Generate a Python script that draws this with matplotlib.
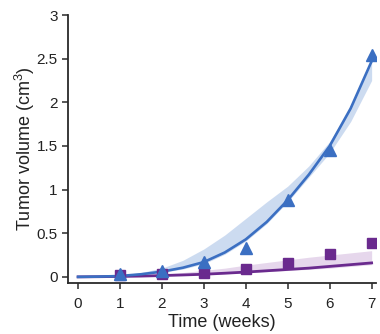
import matplotlib
matplotlib.use("Agg")
import matplotlib.pyplot as plt

plt.rcParams['font.family'] = ['Liberation Sans', 'DejaVu Sans']
plt.rcParams['mathtext.fontset'] = 'custom'
plt.rcParams['mathtext.rm'] = 'Liberation Sans'
plt.rcParams['mathtext.it'] = 'Liberation Sans'

# measured tumour volumes (cm^3) per week
weeks = [1, 2, 3, 4, 5, 6, 7]
vol_blue = [0.03, 0.07, 0.17, 0.33, 0.88, 1.45, 2.54]
vol_purple = [0.02, 0.03, 0.05, 0.09, 0.16, 0.26, 0.39]

# fitted growth curves with confidence bands
t_fit = [0, 0.5, 1, 1.5, 2, 2.5, 3, 3.5, 4, 4.5, 5, 5.5, 6, 6.5, 7]
blue_fit = [0, 0.003, 0.01, 0.03, 0.06, 0.105, 0.17, 0.28, 0.43, 0.63, 0.88, 1.17, 1.5, 1.93, 2.47]
blue_hi = [0, 0.006, 0.02, 0.05, 0.10, 0.19, 0.32, 0.48, 0.67, 0.86, 1.04, 1.27, 1.55, 1.95, 2.45]
blue_lo = [0, 0.002, 0.008, 0.025, 0.05, 0.09, 0.15, 0.26, 0.41, 0.61, 0.86, 1.14, 1.42, 1.78, 2.25]
purple_fit = [0, 0.002, 0.005, 0.009, 0.015, 0.022, 0.03, 0.042, 0.055, 0.07, 0.085, 0.10, 0.12, 0.14, 0.16]
purple_hi = [0, 0.004, 0.01, 0.02, 0.03, 0.05, 0.075, 0.10, 0.135, 0.165, 0.195, 0.225, 0.25, 0.275, 0.30]
purple_lo = [0, 0.001, 0.004, 0.007, 0.012, 0.018, 0.025, 0.035, 0.047, 0.06, 0.073, 0.087, 0.10, 0.12, 0.14]

x_ticks = [0, 1, 2, 3, 4, 5, 6, 7]
y_ticks = [0, 0.5, 1, 1.5, 2, 2.5, 3]
y_tick_labels = ['0', '0.5', '1', '1.5', '2', '2.5', '3']

blue = '#3b6fc2'
purple = '#6a2a8e'

fig = plt.figure(figsize=(3.8, 3.34), dpi=100)
ax = fig.add_axes([0.179, 0.153, 0.81, 0.802])

ax.fill_between(t_fit, blue_lo, blue_hi, color='#c4d5ee', alpha=0.85, lw=0, zorder=1)
ax.fill_between(t_fit, purple_lo, purple_hi, color='#e4d3ea', alpha=0.9, lw=0, zorder=1)
ax.plot(t_fit, purple_fit, color=purple, lw=2.0, zorder=2)
ax.plot(t_fit, blue_fit, color=blue, lw=1.9, zorder=3)
ax.plot(weeks, vol_purple, 's', color=purple, ms=6.5, zorder=4)
ax.plot(weeks, vol_blue, '^', color=blue, ms=9, zorder=5)

ax.set_xlim(-0.24, 7.1)
ax.set_ylim(-0.069, 3.0)
ax.set_xticks(x_ticks)
ax.set_yticks(y_ticks)
ax.set_yticklabels(y_tick_labels)

for side in ['top', 'right']:
    ax.spines[side].set_visible(False)
for side in ['left', 'bottom']:
    ax.spines[side].set_linewidth(1.3)
    ax.spines[side].set_color('#2a2a2a')
ax.spines['left'].set_bounds(-0.069, 3.0)

ax.tick_params(direction='out', length=4.5, width=1.1, colors='#2a2a2a',
               labelsize=11, labelcolor='#222222')
ax.tick_params(axis='x', pad=6)
ax.tick_params(axis='y', pad=3)

ax.set_xlabel('Time (weeks)', fontsize=13, color='#222222', labelpad=2)
ax.set_ylabel('Tumor volume (cm$^{3}$)', fontsize=13, color='#222222', labelpad=-0.5)

fig.savefig('out.png', dpi=100)
